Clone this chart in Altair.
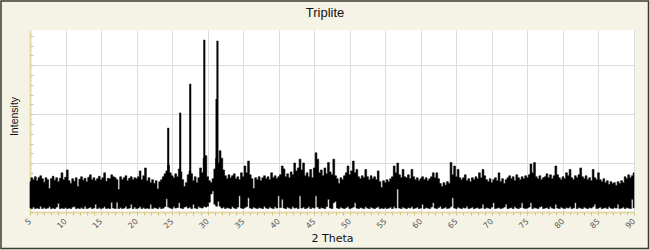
import altair as alt
import numpy as np
import pandas as pd

# sampling grid of the pattern (2 theta, degrees)
two_theta = np.round(np.arange(5.0, 90.0001, 0.25), 2)

# upper envelope of the noisy background (counts)
hi = [
    62, 70, 66, 72, 64, 70, 74, 68, 61, 70, 66, 48, 68, 73, 65, 70, 62, 69, 80, 66,
    71, 86, 64, 58, 68, 63, 70, 52, 67, 72, 65, 69, 62, 71, 76, 66, 70, 64, 68, 73,
    66, 70, 80, 63, 69, 68, 76, 72, 70, 66, 46, 72, 66, 70, 74, 64, 69, 72, 66, 70,
    68, 72, 84, 66, 74, 90, 64, 70, 60, 66, 58, 64, 47, 62, 66, 72, 78, 84, 96, 80,
    74, 70, 78, 72, 88, 82, 66, 52, 60, 76, 84, 78, 64, 72, 60, 70, 90, 80, 110, 115,
    72, 64, 60, 68, 88, 110, 100, 125, 110, 86, 74, 68, 76, 70, 74, 78, 68, 72, 66, 80,
    72, 94, 80, 104, 76, 68, 48, 70, 66, 72, 64, 70, 74, 68, 72, 66, 80, 70, 74, 68,
    72, 76, 94, 88, 72, 78, 70, 82, 76, 100, 84, 90, 108, 86, 100, 74, 80, 72, 87, 70,
    90, 121, 108, 80, 86, 74, 90, 78, 101, 82, 76, 108, 74, 68, 58, 70, 66, 74, 80, 94,
    76, 84, 104, 80, 87, 72, 68, 74, 70, 87, 72, 66, 74, 68, 72, 66, 84, 62, 50, 64,
    60, 66, 62, 68, 72, 94, 80, 100, 76, 70, 87, 72, 70, 76, 68, 87, 72, 66, 70, 64,
    68, 72, 66, 70, 64, 68, 72, 80, 70, 80, 68, 58, 52, 60, 55, 62, 58, 101, 76, 94,
    72, 87, 70, 66, 70, 76, 64, 68, 62, 70, 66, 72, 68, 80, 70, 87, 74, 66, 62, 68,
    60, 66, 70, 64, 80, 62, 68, 58, 66, 70, 74, 68, 72, 64, 76, 70, 66, 72, 68, 74,
    70, 76, 98, 80, 101, 72, 68, 74, 66, 70, 72, 78, 70, 76, 68, 74, 94, 76, 70, 66,
    72, 68, 80, 74, 87, 70, 66, 74, 70, 76, 90, 72, 68, 74, 66, 70, 64, 87, 70, 66,
    80, 66, 62, 68, 60, 64, 56, 62, 58, 60, 54, 62, 58, 64, 60, 72, 68, 76, 70, 74, 80,
]

# lower envelope of the noisy background (counts)
lo = [
    8, 7, 10, 7, 8, 7, 12, 7, 9, 7, 8, 11, 7, 8, 7, 10, 18, 7, 8, 7,
    9, 7, 8, 7, 10, 11, 7, 8, 7, 9, 7, 12, 7, 8, 10, 7, 8, 16, 7, 9,
    7, 8, 11, 7, 8, 7, 20, 8, 7, 20, 7, 9, 7, 8, 12, 7, 8, 16, 7, 10,
    7, 8, 11, 7, 9, 7, 8, 7, 16, 7, 9, 8, 7, 10, 7, 8, 11, 27, 10, 8,
    7, 11, 8, 9, 19, 8, 7, 10, 12, 8, 10, 7, 16, 8, 7, 11, 9, 8, 12, 10,
    12, 20, 37, 43, 16, 12, 22, 12, 8, 10, 7, 9, 8, 7, 11, 8, 7, 10, 33, 8,
    7, 9, 11, 29, 8, 7, 10, 8, 7, 9, 8, 7, 12, 8, 7, 10, 8, 7, 11, 8,
    33, 9, 26, 8, 7, 10, 8, 7, 11, 8, 9, 7, 33, 8, 10, 7, 8, 11, 7, 9,
    8, 33, 10, 7, 9, 8, 7, 11, 26, 8, 7, 19, 22, 8, 7, 10, 8, 7, 9, 11,
    7, 8, 10, 19, 8, 7, 9, 8, 7, 11, 8, 7, 10, 8, 7, 9, 11, 7, 8, 7,
    9, 7, 8, 10, 7, 11, 8, 47, 8, 7, 10, 8, 7, 9, 8, 11, 7, 8, 10, 7,
    8, 16, 7, 9, 8, 7, 10, 19, 8, 7, 9, 12, 7, 8, 10, 7, 8, 11, 29, 8,
    7, 10, 8, 7, 9, 8, 12, 7, 8, 10, 7, 8, 9, 7, 8, 16, 7, 9, 8, 7,
    10, 19, 7, 8, 9, 7, 8, 10, 16, 7, 8, 9, 7, 11, 8, 7, 9, 19, 8, 7,
    8, 10, 19, 7, 9, 8, 7, 10, 12, 7, 8, 9, 7, 11, 8, 7, 16, 8, 7, 10,
    8, 7, 9, 8, 11, 7, 8, 19, 7, 9, 8, 7, 10, 8, 7, 9, 8, 11, 16, 7,
    8, 10, 7, 8, 9, 7, 11, 8, 7, 9, 8, 16, 7, 8, 10, 7, 9, 8, 7, 26, 8,
]

# main diffraction peaks
peak_theta = [24.45, 26.14, 27.55, 29.53, 31.25, 31.38]
peak_top = [172, 203, 262, 352, 231, 350]

x_major = list(range(5, 91, 5))
x_minor = list(range(5, 91, 1))
y_grid = [100, 200, 300]
y_minor = list(range(0, 361, 20))

bg_df = pd.DataFrame({"theta": two_theta, "hi": hi, "lo": lo})
pk_df = pd.DataFrame({"theta": peak_theta, "top": peak_top})

AXIS_COL = "#e2daa2"
TICK_COL = "#cdc58e"

xscale = alt.Scale(domain=[5, 90], nice=False, zero=False)
yscale = alt.Scale(domain=[0, 372], nice=False, zero=True)

band = alt.Chart(bg_df).mark_area(
    color="black", stroke="black", strokeWidth=0.6, interpolate="step"
).encode(
    x=alt.X("theta:Q", scale=xscale, axis=alt.Axis(
        orient="bottom", values=x_major, grid=True, gridColor="#dcdcdc",
        ticks=False, domain=True, domainColor=AXIS_COL, domainWidth=2,
        labelAngle=-45, labelAlign="right", labelBaseline="middle",
        labelPadding=8, labelFont="DejaVu Sans", labelFontSize=8,
        labelColor="#555555", title="2 Theta", titleFont="DejaVu Sans",
        titleFontSize=11, titleFontWeight="normal", titleColor="#111111",
        titleY=29, titleBaseline="alphabetic")),
    y=alt.Y("hi:Q", scale=yscale, axis=alt.Axis(
        orient="left", values=y_grid, grid=True, gridColor="#dcdcdc",
        ticks=False, labels=False, domain=True, domainColor=AXIS_COL,
        domainWidth=2, title="Intensity", titleFont="Liberation Sans",
        titleFontSize=10.5, titleFontWeight="normal", titleColor="#111111",
        titleX=-11, titleY=86, titleBaseline="bottom")),
    y2="lo:Q",
)

peaks = alt.Chart(pk_df).mark_rule(color="black", strokeWidth=2).encode(
    x=alt.X("theta:Q", scale=xscale, axis=alt.Axis(
        orient="bottom", values=x_minor, grid=False, ticks=True, tickSize=3,
        tickColor=TICK_COL, tickWidth=1, labels=False, domain=False, title="")),
    y=alt.Y("top:Q", scale=yscale, axis=alt.Axis(
        orient="left", values=y_minor, grid=False, ticks=True, tickSize=3,
        tickColor=TICK_COL, tickWidth=1, labels=False, domain=False,
        offset=-3, title="")),
    y2=alt.datum(40),
)

frame = alt.Chart(pd.DataFrame({"k": [0]})).mark_rect(
    fill="transparent", stroke="#3b3b35", strokeWidth=1.5
).encode(
    x=alt.value(-29), x2=alt.value(618.5), y=alt.value(-29), y2=alt.value(218.5)
)

chart = alt.layer(band, peaks, frame).resolve_axis(
    x="independent", y="independent"
).properties(
    width=604,
    height=182,
    padding={"left": 30, "top": 30, "right": 16, "bottom": 38},
    autosize=alt.AutoSizeParams(type="none"),
    background="#f5f3e6",
    title=alt.TitleParams(
        "Triplite", font="Liberation Sans", fontSize=13, fontWeight="normal",
        color="#111111", anchor="middle", dx=-7, offset=0, dy=30,
        baseline="alphabetic"
    ),
).configure_view(fill="white", strokeWidth=0)

chart.save("out.html", embed_options={"renderer": "svg", "actions": False})
